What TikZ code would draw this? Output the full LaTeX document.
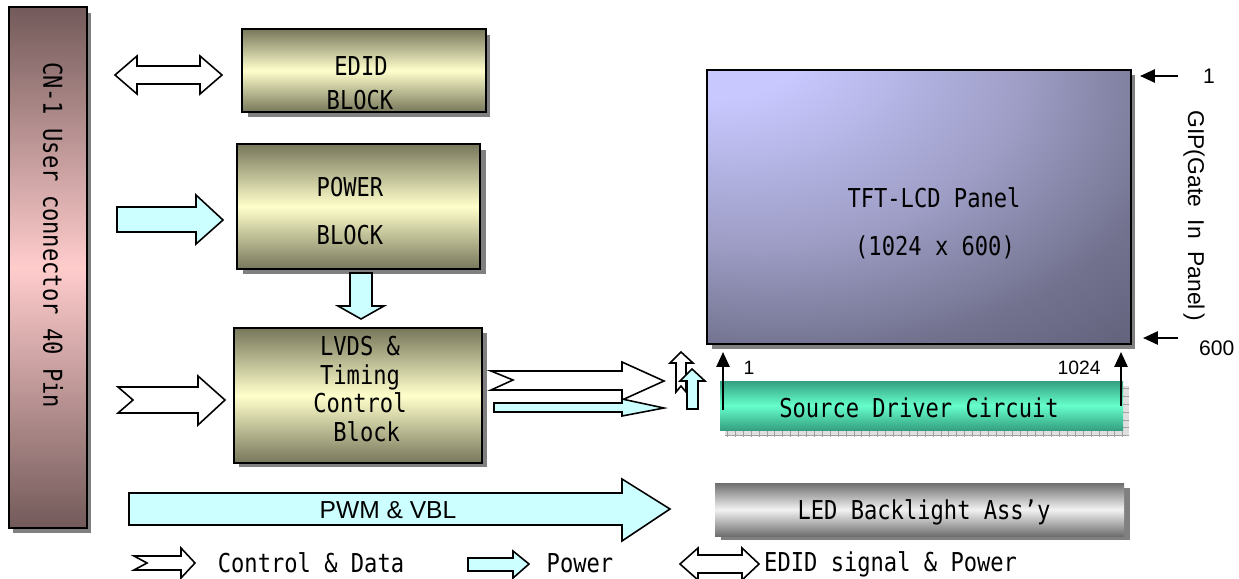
\documentclass[tikz,border=0pt]{standalone}
\usepackage{fontspec}
\setmainfont{Liberation Sans}
\newfontfamily\gulfont[FakeStretch=0.85]{DejaVu Sans Mono}
\usetikzlibrary{arrows.meta,calc,patterns.meta}
\definecolor{olivedark}{HTML}{77775B}
\definecolor{olivelight}{HTML}{FFFFCC}
\definecolor{plumdark}{HTML}{735A5A}
\definecolor{plumlight}{HTML}{FFCCCC}
\definecolor{aqua}{HTML}{CCFFFF}
\definecolor{tealdark}{HTML}{34A080}
\definecolor{teallight}{HTML}{66FFCC}
\definecolor{steeldark}{HTML}{6E6E6E}
\definecolor{steellight}{HTML}{F2F2F2}
\definecolor{shadowgray}{HTML}{808080}
\definecolor{panelhi}{HTML}{C8C8FF}
\definecolor{panelmid}{HTML}{9C9CC4}
\definecolor{paneldeep}{HTML}{72728F}
\definecolor{panello}{HTML}{5E5E78}
\pgfdeclareradialshading{panelshade}{\pgfpoint{-28bp}{36bp}}{color(0bp)=(panelhi); color(12bp)=(panelhi); color(32bp)=(panelmid); color(46bp)=(paneldeep); color(58bp)=(panello); color(100bp)=(panello)}

\begin{document}
\begin{tikzpicture}[x=0.02cm, y=-0.02cm,
  shadowbox/.style={fill=shadowgray},
  blk/.style={draw, line width=1.1pt},
  oliveblock/.style={blk, top color=olivedark, bottom color=olivedark, middle color=olivelight},
  fat/.style={draw, line width=0.9pt, line join=miter},
  fatwhite/.style={fat, fill=white},
  fatcyan/.style={fat, fill=aqua},
  gul/.style={font=\gulfont\fontsize{14.8pt}{17pt}\selectfont},
  num/.style={font=\fontsize{12pt}{14pt}\selectfont},
  pinline/.style={line width=1.2pt, -{Triangle[length=8.5pt,width=7.5pt]}},
]
\useasboundingbox (0,0) rectangle (1239,578);

% --- CN-1 user connector ---
\fill[shadowbox] (13,13) rectangle (91,533);
\path[blk, top color=plumdark, bottom color=plumdark, middle color=plumlight] (9,7) rectangle (87,528);
\node[gul, rotate=-90] (cn) at (53,235) {CN-1 User connector 40 Pin};

% --- EDID block ---
\fill[shadowbox] (248,35) rectangle (490,117);
\path[oliveblock] (242,29) rectangle (486,112);
\node[gul] (edid) at (361,66) {EDID};
\node[gul] (edidb) at (360,100) {BLOCK};

% --- POWER block ---
\fill[shadowbox] (243,150) rectangle (486,274);
\path[oliveblock] (237,144) rectangle (480,269);
\node[gul] (power) at (350,187) {POWER};
\node[gul] (powerb) at (350,235) {BLOCK};

% --- LVDS & timing control ---
\fill[shadowbox] (239,333) rectangle (487,467);
\path[oliveblock] (234,328) rectangle (482,463);
\node[gul, align=center, font=\gulfont\fontsize{14.8pt}{16.3pt}\selectfont] (lvds) at (360,389)
  {LVDS \&\\Timing\\Control\\\ Block};

% --- TFT-LCD panel ---
\fill[shadowbox] (712,75) rectangle (1135,349);
\shade[shading=panelshade, draw, line width=1.1pt] (707,70) rectangle (1131,344);
\node[gul] (panel) at (934,198) {TFT-LCD Panel};
\node[gul] (panelres) at (935,247) {(1024 x 600)};

% --- gate side (GIP) ---
\node[num, anchor=west] (g1) at (1197,76) {1};
\node[num, anchor=west] (g600) at (1193,348) {600};
\coordinate (g1tip) at (1140,76);
\coordinate (g600tip) at (1143,338);
\draw[pinline] (1178,76) -- (g1tip);
\draw[pinline] (1178,338) -- (g600tip);
\node[font=\fontsize{13pt}{15pt}\selectfont, rotate=-90] (gip) at (1194,216) {GIP(Gate\ \ In\ \ Panel\,)};

% --- source driver ---
\fill[gray!25] (725,386) rectangle (1129,436);
\fill[pattern={Hatch[angle=0,distance=4.5pt,line width=0.4pt]}, pattern color=gray!75] (725,386) rectangle (1129,436);
\path[top color=tealdark, bottom color=tealdark, middle color=teallight] (720,381) rectangle (1123,430);
\node[gul] (source) at (919,408) {Source Driver Circuit};
\coordinate (s1) at (723,410);
\coordinate (s1tip) at (723,352);
\coordinate (s2) at (1121,406);
\coordinate (s2tip) at (1121,352);
\draw[pinline] (s1) -- (s1tip);
\draw[pinline] (s2) -- (s2tip);
\node[font=\fontsize{11pt}{13pt}\selectfont] (col1) at (749,368) {1};
\node[font=\fontsize{11pt}{13pt}\selectfont] (col1024) at (1079,368) {1024};

% --- LED backlight ---
\fill[shadowbox] (721,488) rectangle (1130,540);
\path[top color=steeldark, bottom color=steeldark, middle color=steellight] (715,483) rectangle (1124,536);
\node[gul] (backlight) at (924,512) {LED Backlight Ass’y};

% --- fat arrows ---
% EDID signal & power (both ways)
\draw[fatwhite] (115,75) -- (137,56) -- (137,66) -- (200,66) -- (200,56) -- (222,75)
  -- (200,94) -- (200,84) -- (137,84) -- (137,94) -- cycle;
% power into POWER block
\draw[fatcyan] (117,207) -- (196,207) -- (196,195) -- (223,220) -- (196,244) -- (196,232) -- (117,232) -- cycle;
% POWER down to LVDS
\draw[fatcyan] (350,273) -- (372,273) -- (372,306) -- (384,306) -- (361,319) -- (338,306) -- (350,306) -- cycle;
% control & data into LVDS
\draw[fatwhite] (118,387) -- (198,387) -- (198,376) -- (225,400) -- (198,425) -- (198,413) -- (118,413) -- (133,400) -- cycle;
% LVDS out
\draw[fatwhite] (491,371) -- (622,371) -- (622,362) -- (664,381) -- (622,400) -- (622,390) -- (491,390) -- (513,380) -- cycle;
\draw[fatcyan] (494,403) -- (622,403) -- (622,399) -- (664,408) -- (622,416) -- (622,412) -- (494,412) -- cycle;
% up into panel
\draw[fatwhite] (676,392) -- (676,363) -- (670,363) -- (681,352) -- (693,363) -- (686,363) -- (686,392) -- (681,386) -- cycle;
\draw[fatcyan] (687,409) -- (687,381) -- (680,381) -- (692,369) -- (705,381) -- (698,381) -- (698,409) -- cycle;
% PWM & VBL
\draw[fatcyan] (129,493) -- (622,493) -- (622,479) -- (670,509) -- (622,541) -- (622,525) -- (129,525) -- cycle;
\node[font=\fontsize{14pt}{16pt}\selectfont] (pwm) at (388,510) {PWM \& VBL};

% --- legend ---
\draw[fatwhite] (134,556) -- (181,556) -- (181,548) -- (195,563) -- (181,578) -- (181,570) -- (134,570) -- (147,563) -- cycle;
\node[gul] (legctl) at (311,563) {Control \& Data};
\draw[fatcyan] (468,558) -- (513,558) -- (513,551) -- (529,564) -- (513,578) -- (513,571) -- (468,571) -- cycle;
\node[gul] (legpwr) at (580,563) {Power};
\draw[fatwhite] (680,564) -- (698,548) -- (698,555) -- (742,555) -- (742,548) -- (759,564)
  -- (742,580) -- (742,573) -- (698,573) -- (698,580) -- cycle;
\node[gul, anchor=west] (legedid) at (758,564) {EDID signal \& Power};

\end{tikzpicture}
\end{document}
